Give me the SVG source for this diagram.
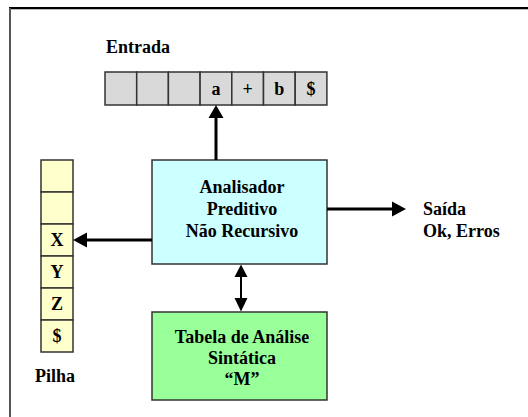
<svg xmlns="http://www.w3.org/2000/svg" width="528" height="417" viewBox="0 0 528 417">
<defs>
<style>
text{font-family:"Liberation Serif","Times New Roman",serif;font-weight:bold;font-size:18px;fill:#000}
.c{text-anchor:middle}
.cell{stroke:#333;stroke-width:1.5}
.tape{fill:#D9D9D9}
.stk{fill:#FFFFCC}
.ln{stroke:#000;stroke-width:3;fill:none}
.ln2{stroke:#000;stroke-width:2;fill:none}
.hd{fill:#000}
</style>
</defs>
<rect x="0" y="0" width="528" height="417" fill="#fff"/>
<g id="frame">
<line x1="9" y1="8" x2="528" y2="8" stroke="#000" stroke-width="1.8"/>
<line x1="9" y1="9.5" x2="528" y2="9.5" stroke="#bbb" stroke-width="1"/>
<line x1="10" y1="8" x2="10" y2="417" stroke="#555" stroke-width="2"/>
</g>
<g id="entrada">
<text x="106" y="53">Entrada</text>
<rect class="cell tape" x="105" y="72" width="31.7" height="33"/>
<rect class="cell tape" x="136.7" y="72" width="31.7" height="33"/>
<rect class="cell tape" x="168.4" y="72" width="31.7" height="33"/>
<rect class="cell tape" x="200.1" y="72" width="31.7" height="33"/>
<rect class="cell tape" x="231.8" y="72" width="31.7" height="33"/>
<rect class="cell tape" x="263.5" y="72" width="31.7" height="33"/>
<rect class="cell tape" x="295.2" y="72" width="31.7" height="33"/>
<text class="c" x="216" y="95">a</text>
<text class="c" x="247.6" y="95">+</text>
<text class="c" x="279.3" y="95">b</text>
<text class="c" x="311" y="95">$</text>
</g>
<g id="pilha">
<rect class="cell stk" x="41" y="160" width="32" height="32"/>
<rect class="cell stk" x="41" y="192" width="32" height="32"/>
<rect class="cell stk" x="41" y="224" width="32" height="32"/>
<rect class="cell stk" x="41" y="256" width="32" height="32"/>
<rect class="cell stk" x="41" y="288" width="32" height="32"/>
<rect class="cell stk" x="41" y="320" width="32" height="32"/>
<text class="c" x="57" y="246">X</text>
<text class="c" x="57" y="278">Y</text>
<text class="c" x="57" y="310">Z</text>
<text class="c" x="57" y="342">$</text>
<text x="35" y="382">Pilha</text>
</g>
<g id="analisador">
<rect x="152" y="160" width="175" height="104" fill="#CCFFFF" stroke="#333" stroke-width="1.5"/>
<text class="c" x="242" y="193">Analisador</text>
<text class="c" x="242" y="215">Preditivo</text>
<text class="c" x="242" y="237">Não Recursivo</text>
</g>
<g id="saida">
<text x="423" y="215">Saída</text>
<text x="423" y="237">Ok, Erros</text>
</g>
<g id="tabela">
<rect x="152" y="312" width="175" height="88" fill="#99FF99" stroke="#333" stroke-width="1.5"/>
<text class="c" x="242" y="343">Tabela de Análise</text>
<text class="c" x="242" y="364">Sintática</text>
<text class="c" x="242" y="385">“M”</text>
</g>
<g id="connectors">
<line class="ln" x1="216" y1="160" x2="216" y2="117"/>
<polygon class="hd" points="216,105 208.5,118 223.5,118"/>
<line class="ln" x1="327" y1="209" x2="393" y2="209"/>
<polygon class="hd" points="406,209 392,201.5 392,216.5"/>
<line class="ln" x1="152" y1="240" x2="86" y2="240"/>
<polygon class="hd" points="73,240 87,232.5 87,247.5"/>
<line class="ln2" x1="241" y1="276" x2="241" y2="299"/>
<polygon class="hd" points="241,264.5 234.5,277 247.5,277"/>
<polygon class="hd" points="241,311.5 234.5,298 247.5,298"/>
</g>
</svg>
